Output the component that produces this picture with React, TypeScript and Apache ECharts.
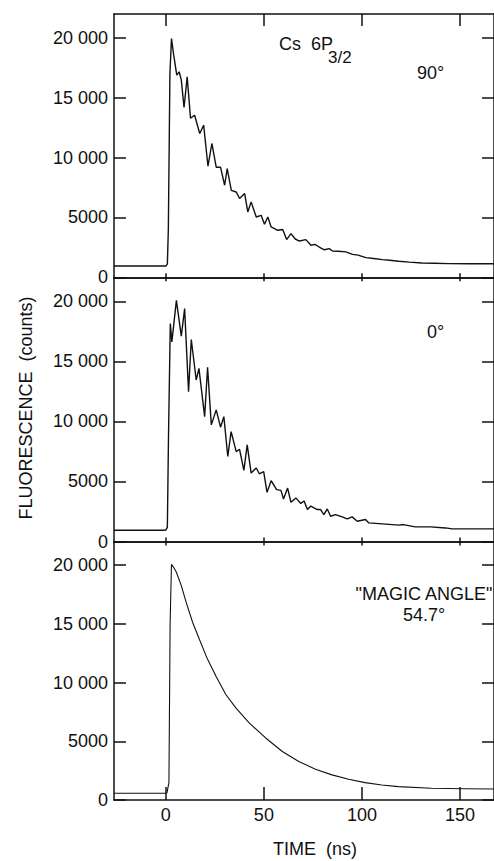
import React, { useEffect, useRef } from "react";
import * as echarts from "echarts";

// ---- data ----
const timeMin = -26.4;
const timeMax = 167.3;
const xTickValues = [0, 50, 100, 150];
const yTickValues = [0, 5000, 10000, 15000, 20000];

// 90 degrees panel
const t90 = [-26.4, -1, 0.0, 0.8, 1.3, 2.1, 2.9, 4.0, 5.6, 6.8, 7.9, 9.3, 10.9, 12.6, 14.7, 17.3, 19.3, 21.5, 23.5, 25.7, 27.9, 30.0, 31.3, 33.4, 35.9, 37.6, 40.2, 41.8, 43.5, 46.1, 48.6, 50.3, 52.0, 53.7, 57.1, 59.6, 61.6, 63.8, 66.0, 68.1, 71.4, 74.0, 76.0, 78.2, 80.8, 83.3, 85.0, 88.0, 91.8, 95.2, 98.0, 102.0, 106.0, 110.4, 114.0, 118.8, 124.0, 130.6, 137.0, 144.2, 155.0, 167.3];
const c90 = [940, 940, 950, 1100, 4000, 17000, 19950, 18600, 16900, 17170, 16500, 14190, 16750, 13300, 13540, 12010, 12710, 9280, 11180, 9200, 9200, 7690, 9080, 7270, 7130, 6580, 7000, 5460, 6300, 5040, 5180, 4430, 5040, 4210, 3930, 3990, 3150, 3650, 3200, 3030, 3150, 2680, 2750, 2530, 2300, 2400, 2200, 2180, 2120, 1920, 1850, 1640, 1570, 1480, 1420, 1340, 1270, 1200, 1170, 1140, 1130, 1130];

// 0 degrees panel
const t0 = [-26.4, -0.5, 0.0, 0.8, 1.4, 2.3, 3.1, 5.4, 7.9, 9.6, 11.6, 13.0, 15.5, 16.9, 19.8, 21.3, 23.2, 25.7, 27.9, 29.6, 31.6, 33.3, 35.9, 37.6, 39.8, 41.5, 43.5, 46.1, 47.7, 49.9, 51.6, 53.7, 56.5, 58.7, 60.0, 62.1, 63.8, 66.3, 68.8, 70.5, 72.2, 73.9, 77.2, 78.9, 80.6, 82.3, 84.0, 86.5, 89.9, 92.5, 95.0, 97.6, 101.8, 103.5, 110.4, 118.8, 121.0, 127.2, 135.0, 142.6, 146.0, 167.3];
const c0 = [940, 940, 950, 1200, 9000, 18150, 16620, 20080, 17100, 19390, 12480, 16820, 13450, 14420, 10400, 14500, 9710, 10960, 9520, 10400, 7080, 9150, 7490, 7680, 5920, 8050, 5700, 6120, 5640, 5810, 4090, 5060, 4320, 4260, 3540, 4450, 3260, 3630, 3170, 3370, 2660, 2950, 2660, 2660, 2240, 2710, 2100, 2240, 2050, 1880, 2050, 1690, 1830, 1550, 1470, 1360, 1410, 1220, 1220, 1130, 1050, 1050];

// magic angle panel
const tMagic = [-26.4, -0.3, 0.6, 1.6, 2.2, 2.9, 4.0, 5.4, 7.9, 10.4, 13.7, 17.1, 21.3, 25.6, 30.6, 35.7, 42.5, 50.9, 59.4, 67.8, 76.3, 84.7, 93.2, 101.6, 110.1, 118.5, 135.4, 152.2, 167.3];
const cMagic = [570, 580, 600, 1500, 15000, 20050, 19800, 19380, 18240, 16820, 15110, 13680, 11970, 10540, 8980, 7840, 6560, 5280, 4130, 3280, 2620, 2140, 1770, 1480, 1280, 1140, 1000, 960, 930];

const seriesTimes = [t90, t0, tMagic];
const seriesCounts = [c90, c0, cMagic];

const FONT = "'Liberation Sans', Arial, Helvetica, sans-serif";
const INK = "#111111";

function fmtY(v: number): string {
  if (v >= 10000) return `${Math.round(v / 1000)} 000`;
  return String(v);
}

export default function App() {
  const ref = useRef<HTMLDivElement>(null);

  useEffect(() => {
    if (!ref.current) return;
    const chart = echarts.init(ref.current, undefined, { renderer: "svg" });

    const panels = [
      { top: 14, height: 263.3, bottomTick: 4, topTick: 12, lw: 1.4 },
      { top: 277.3, height: 264.2, bottomTick: 4, topTick: 4, lw: 1.4 },
      { top: 541.5, height: 258.5, bottomTick: 13, topTick: 4, lw: 1.1 },
    ];

    const grid: any[] = [];
    const xAxis: any[] = [];
    const yAxis: any[] = [];
    const series: any[] = [];
    const axisLine = { show: true, onZero: false, lineStyle: { color: INK, width: 1.5 } };

    panels.forEach((p, i) => {
      grid.push({ left: 114, right: -2, top: p.top, height: p.height, containLabel: false });
      // bottom x axis
      xAxis.push({
        type: "value", gridIndex: i, position: "bottom", min: timeMin, max: timeMax,
        axisLine,
        axisTick: { show: true, inside: true, length: p.bottomTick, customValues: xTickValues, lineStyle: { color: INK, width: 1.5 } },
        axisLabel: { show: i === 2, customValues: xTickValues, margin: 6, fontSize: 18, fontFamily: FONT, color: INK },
        splitLine: { show: false },
      });
      // top x axis
      xAxis.push({
        type: "value", gridIndex: i, position: "top", min: timeMin, max: timeMax,
        axisLine,
        axisTick: { show: true, inside: true, length: p.topTick, customValues: xTickValues, lineStyle: { color: INK, width: 1.5 } },
        axisLabel: { show: false },
        splitLine: { show: false },
      });
      // left y axis
      yAxis.push({
        type: "value", gridIndex: i, position: "left", min: 0, max: 22000,
        axisLine,
        axisTick: { show: true, inside: true, length: 12, customValues: yTickValues, lineStyle: { color: INK, width: 1.5 } },
        axisLabel: { show: true, customValues: yTickValues, margin: 6, fontSize: 18, fontFamily: FONT, color: INK, formatter: fmtY },
        splitLine: { show: false },
      });
      // right y axis
      yAxis.push({
        type: "value", gridIndex: i, position: "right", min: 0, max: 22000,
        axisLine,
        axisTick: { show: true, inside: true, length: 12, customValues: yTickValues, lineStyle: { color: INK, width: 1.5 } },
        axisLabel: { show: false },
        splitLine: { show: false },
      });
      const times = seriesTimes[i];
      const counts = seriesCounts[i];
      series.push({
        type: "line",
        xAxisIndex: i * 2,
        yAxisIndex: i * 2,
        showSymbol: false,
        symbol: "none",
        smooth: false,
        lineStyle: { color: INK, width: p.lw },
        data: times.map((t, k) => [t, counts[k]]),
      });
    });

    const txt = (text: string, x: number, y: number, size: number, align = "left", extra: any = {}) => ({
      type: "text",
      x,
      y,
      ...extra,
      style: {
        text,
        fill: INK,
        fontSize: size,
        fontFamily: FONT,
        textAlign: align,
        textVerticalAlign: "middle",
      },
    });

    chart.setOption({
      animation: false,
      backgroundColor: "#ffffff",
      grid,
      xAxis,
      yAxis,
      series,
      graphic: [
        txt("Cs  6P", 279, 44, 18),
        txt("3/2", 328, 57, 17),
        txt("90°", 417, 73, 18),
        txt("0°", 427, 332, 18),
        txt("\"MAGIC ANGLE\"", 424, 594, 18, "center"),
        txt("54.7°", 424, 615, 18, "center"),
        txt("TIME  (ns)", 315, 849, 18, "center"),
        txt("FLUORESCENCE  (counts)", 26, 408, 18, "center", { rotation: Math.PI / 2 }),
      ],
    });

    return () => chart.dispose();
  }, []);

  return (
    <div
      ref={ref}
      style={{ position: "absolute", left: 0, top: 0, width: 494, height: 861, background: "#fff" }}
    />
  );
}
